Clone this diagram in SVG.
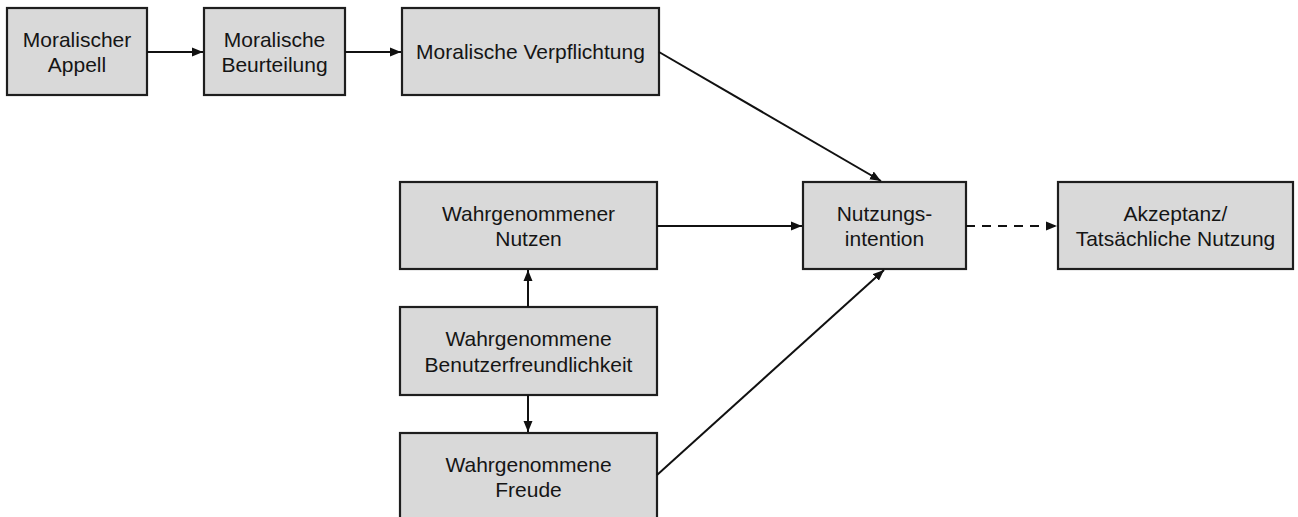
<svg xmlns="http://www.w3.org/2000/svg" width="1298" height="517" viewBox="0 0 1298 517">
<style>
.box{fill:#d9d9d9;stroke:#1e1e1e;stroke-width:2.2}
.t{font-family:"Liberation Sans",Arial,sans-serif;font-size:21px;fill:#151515;text-anchor:middle}
.c{stroke:#111;stroke-width:2;fill:none}
</style>
<defs>
<marker id="ah" markerUnits="userSpaceOnUse" markerWidth="12" markerHeight="10" refX="11" refY="5" orient="auto">
<path d="M0,0.5 L11,5 L0,9.5 Z" fill="#111"/>
</marker>
</defs>
<rect width="1298" height="517" fill="#fff"/>
<g id="n1"><rect class="box" x="7" y="8" width="140" height="87"/><text class="t" x="77" y="46.5">Moralischer</text><text class="t" x="77" y="72">Appell</text></g>
<g id="n2"><rect class="box" x="204" y="8" width="141" height="87"/><text class="t" x="274.5" y="46.5">Moralische</text><text class="t" x="274.5" y="72">Beurteilung</text></g>
<g id="n3"><rect class="box" x="402" y="8" width="257" height="87"/><text class="t" x="530.5" y="59">Moralische Verpflichtung</text></g>
<g id="n4"><rect class="box" x="400" y="182" width="257" height="87"/><text class="t" x="528.5" y="220.5">Wahrgenommener</text><text class="t" x="528.5" y="246">Nutzen</text></g>
<g id="n5"><rect class="box" x="400" y="307" width="257" height="88"/><text class="t" x="528.5" y="346">Wahrgenommene</text><text class="t" x="528.5" y="371.5">Benutzerfreundlichkeit</text></g>
<g id="n6"><rect class="box" x="400" y="433" width="257" height="87"/><text class="t" x="528.5" y="471.5">Wahrgenommene</text><text class="t" x="528.5" y="497">Freude</text></g>
<g id="n7"><rect class="box" x="803" y="182" width="163" height="87"/><text class="t" x="884.5" y="220.5">Nutzungs-</text><text class="t" x="884.5" y="246">intention</text></g>
<g id="n8"><rect class="box" x="1058" y="182" width="235" height="87"/><text class="t" x="1175.5" y="220.5">Akzeptanz/</text><text class="t" x="1175.5" y="246">Tatsächliche Nutzung</text></g>
<g id="connectors">
<line class="c" x1="147" y1="52" x2="203" y2="52" marker-end="url(#ah)"/>
<line class="c" x1="345" y1="52" x2="401" y2="52" marker-end="url(#ah)"/>
<line class="c" x1="659" y1="52" x2="881" y2="181" marker-end="url(#ah)"/>
<line class="c" x1="657" y1="226" x2="802" y2="226" marker-end="url(#ah)"/>
<line class="c" x1="966" y1="226" x2="1057" y2="226" stroke-dasharray="9,7" marker-end="url(#ah)"/>
<line class="c" x1="528" y1="307" x2="528" y2="270" marker-end="url(#ah)"/>
<line class="c" x1="528" y1="395" x2="528" y2="432" marker-end="url(#ah)"/>
<line class="c" x1="657" y1="475" x2="884" y2="270" marker-end="url(#ah)"/>
</g>
</svg>
